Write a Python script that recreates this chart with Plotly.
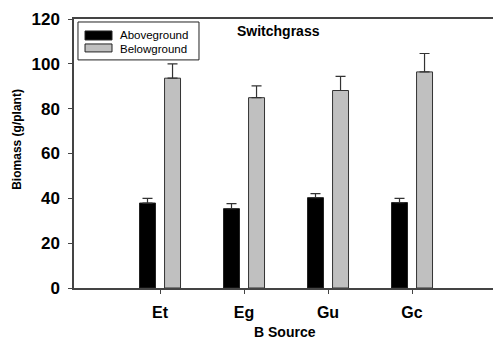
import plotly.graph_objects as go

categories = ["Et", "Eg", "Gu", "Gc"]
above = [37.9, 35.4, 40.3, 38.1]
above_err = [2.1, 2.2, 1.8, 1.9]
below = [93.6, 84.9, 88.1, 96.4]
below_err = [6.4, 5.3, 6.3, 8.2]
y_ticks = [0, 20, 40, 60, 80, 100, 120]
series_names = ["Aboveground", "Belowground"]

FONT = "Liberation Sans, Arial, sans-serif"
AX = "#444444"

fig = go.Figure()
fig.add_trace(go.Bar(
    x=categories, y=above, name=series_names[0],
    marker=dict(color="black", line=dict(color="#222222", width=1)),
    error_y=dict(type="data", symmetric=False, array=above_err,
                 arrayminus=[0] * len(above), color="#333333", thickness=1.2, width=5),
    showlegend=False,
))
fig.add_trace(go.Bar(
    x=categories, y=below, name=series_names[1],
    marker=dict(color="#C0C0C0", line=dict(color="#333333", width=1)),
    error_y=dict(type="data", symmetric=False, array=below_err,
                 arrayminus=[0] * len(below), color="#333333", thickness=1.2, width=5),
    showlegend=False,
))

fig.update_layout(
    width=493, height=340,
    margin=dict(l=74, r=0, t=19, b=52),
    paper_bgcolor="white", plot_bgcolor="white",
    barmode="group", bargap=0.404, bargroupgap=0.362,
    font=dict(family=FONT, color="black"),
    showlegend=False,
)
fig.update_xaxes(
    range=[-1.024, 3.964], showline=True, linecolor=AX, linewidth=1.5, mirror=True,
    ticks="outside", ticklen=4, tickcolor=AX, showgrid=False, zeroline=False,
    ticklabelstandoff=5,
    tickfont=dict(family=FONT, size=16, color="black", weight="bold"),
)
fig.update_yaxes(
    range=[0, 120], tickvals=y_ticks, showline=True, linecolor=AX, linewidth=1.5,
    ticks="outside", ticklen=4, tickcolor=AX, showgrid=False, zeroline=False,
    ticklabelstandoff=5,
    tickfont=dict(family=FONT, size=17, color="black", weight="bold"),
)

# Titles
fig.add_annotation(text="<b>Switchgrass</b>", xref="paper", yref="paper", x=0.487, y=0.955,
                   showarrow=False, font=dict(family=FONT, size=14, color="black"),
                   xanchor="center", yanchor="middle")
fig.add_annotation(text="<b>Biomass (g/plant)</b>", xref="paper", yref="paper", x=-0.136, y=0.551,
                   showarrow=False, textangle=-90, font=dict(family=FONT, size=12, color="black"),
                   xanchor="center", yanchor="middle")
fig.add_annotation(text="<b>B Source</b>", xref="paper", yref="paper", x=0.503, y=-0.165,
                   showarrow=False, font=dict(family=FONT, size=14, color="black"),
                   xanchor="center", yanchor="middle")

# Manual legend
fig.add_shape(type="rect", xref="paper", yref="paper", x0=0.0095, x1=0.2983, y0=0.8479, y1=0.9889,
              line=dict(color="#222222", width=1), fillcolor="white")
fig.add_shape(type="rect", xref="paper", yref="paper", x0=0.0263, x1=0.0907, y0=0.9221, y1=0.9555,
              line=dict(color="#222222", width=1), fillcolor="black")
fig.add_shape(type="rect", xref="paper", yref="paper", x0=0.0263, x1=0.0907, y0=0.8776, y1=0.9072,
              line=dict(color="#222222", width=1), fillcolor="#C0C0C0")
fig.add_annotation(text=series_names[0], xref="paper", yref="paper", x=0.1074, y=0.940,
                   showarrow=False, font=dict(family=FONT, size=11.5, color="black"),
                   xanchor="left", yanchor="middle", borderpad=0)
fig.add_annotation(text=series_names[1], xref="paper", yref="paper", x=0.1074, y=0.889,
                   showarrow=False, font=dict(family=FONT, size=11.5, color="black"),
                   xanchor="left", yanchor="middle", borderpad=0)

fig.write_html("out.html")
